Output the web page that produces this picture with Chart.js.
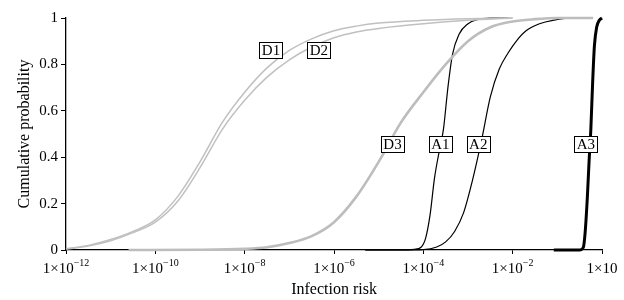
<!DOCTYPE html>
<html lang="en">
<head>
<meta charset="UTF-8" />
<title>Infection risk</title>
<script src="https://cdn.jsdelivr.net/npm/chart.js"></script>
<style>
  html, body { margin: 0; padding: 0; background: #fff; }
  #wrap { width: 624px; height: 300px; }
</style>
</head>
<body>
<div id="wrap"><canvas id="chart" width="624" height="300"></canvas></div>
<script>
  // x values are kept as powers of ten (exponents), y is cumulative probability
  const tickExps = [-12, -10, -8, -6, -4, -2, 0];
  const tickSup = ['\u221212', '\u221210', '\u22128', '\u22126', '\u22124', '\u22122', ''];

  const d1Exp = [-12, -11.5, -11, -10.5, -10, -9.5, -9, -8.5, -8, -7.5, -7, -6.5, -6, -5.5, -5, -4, -3, -2];
  const d1Val = [0.005, 0.02, 0.045, 0.08, 0.13, 0.23, 0.38, 0.55, 0.68, 0.785, 0.86, 0.91, 0.945, 0.965, 0.978, 0.99, 0.997, 1.0];

  const d2Exp = [-12, -11.5, -11, -10.5, -10, -9.5, -9, -8.5, -8, -7.5, -7, -6.5, -6, -5.5, -5, -4, -3, -2];
  const d2Val = [0.004, 0.017, 0.04, 0.075, 0.12, 0.21, 0.355, 0.52, 0.645, 0.745, 0.82, 0.875, 0.915, 0.94, 0.955, 0.975, 0.99, 1.0];

  const d3Exp = [-10.6, -9, -8, -7.5, -7, -6.5, -6, -5.5, -5, -4.5, -4, -3.5, -3, -2.5, -2, -1.5, -1, -0.2];
  const d3Val = [0, 0.001, 0.005, 0.012, 0.03, 0.06, 0.12, 0.23, 0.38, 0.55, 0.68, 0.80, 0.90, 0.96, 0.985, 0.995, 1.0, 1.0];

  const a1Exp = [-5.3, -4.5, -4.2, -4.05, -3.95, -3.85, -3.75, -3.65, -3.55, -3.45, -3.35, -3.2, -3.0, -2.8, -2.5, -2.1];
  const a1Val = [0, 0, 0.003, 0.012, 0.05, 0.15, 0.31, 0.42, 0.52, 0.70, 0.84, 0.93, 0.975, 0.993, 1.0, 1.0];

  const a2Exp = [-5.3, -4.5, -4.0, -3.7, -3.5, -3.3, -3.1, -2.9, -2.7, -2.5, -2.3, -2.1, -1.9, -1.7, -1.4, -1.1, -0.6, -0.2];
  const a2Val = [0, 0, 0.002, 0.013, 0.035, 0.08, 0.16, 0.30, 0.47, 0.66, 0.78, 0.85, 0.905, 0.945, 0.975, 0.99, 1.0, 1.0];

  const a3Exp = [-1.08, -0.5, -0.42, -0.38, -0.33, -0.29, -0.25, -0.21, -0.17, -0.12, -0.06, 0];
  const a3Val = [0, 0, 0.01, 0.07, 0.22, 0.38, 0.52, 0.72, 0.88, 0.96, 0.99, 1.0];

  // boxed curve names and where they sit (exponent, probability)
  const curveNames = ['D1', 'D2', 'D3', 'A1', 'A2', 'A3'];
  const labelExp = [-7.41, -6.34, -4.69, -3.62, -2.77, -0.36];
  const labelVal = [0.862, 0.862, 0.457, 0.457, 0.457, 0.457];

  const SERIF = '"Liberation Serif", "Times New Roman", serif';
  Chart.defaults.font.family = SERIF;
  Chart.defaults.color = '#000';

  function pts(exps, vals) {
    return exps.map((e, i) => ({ x: Math.pow(10, e), y: vals[i] }));
  }

  function line(data, color, width) {
    return {
      data: data,
      borderColor: color,
      borderWidth: width,
      pointRadius: 0,
      fill: false,
      cubicInterpolationMode: 'monotone',
      clip: 4
    };
  }

  // x tick labels with raised exponents + boxed curve names
  const extras = {
    id: 'extras',
    afterDraw(chart) {
      const c = chart.ctx;
      const xs = chart.scales.x;
      const ys = chart.scales.y;
      c.save();
      c.fillStyle = '#000';
      c.textBaseline = 'alphabetic';
      tickExps.forEach((e, i) => {
        const px = xs.getPixelForValue(Math.pow(10, e));
        c.font = '15px ' + SERIF;
        const base = '1\u00d710';
        const w1 = c.measureText(base).width;
        c.font = '10px ' + SERIF;
        const w2 = c.measureText(tickSup[i]).width;
        const x0 = px - (w1 + w2) / 2;
        c.font = '15px ' + SERIF;
        c.textAlign = 'left';
        c.fillText(base, x0, 273);
        c.font = '10px ' + SERIF;
        c.fillText(tickSup[i], x0 + w1, 266);
      });

      c.font = '15px ' + SERIF;
      c.textAlign = 'center';
      c.textBaseline = 'middle';
      curveNames.forEach((name, i) => {
        const cx = xs.getPixelForValue(Math.pow(10, labelExp[i]));
        const cy = ys.getPixelForValue(labelVal[i]);
        const w = c.measureText(name).width + 5;
        const h = 16;
        c.fillStyle = '#fff';
        c.fillRect(Math.round(cx - w / 2), Math.round(cy - h / 2), Math.round(w), h);
        c.strokeStyle = '#000';
        c.lineWidth = 1;
        c.strokeRect(Math.round(cx - w / 2) + 0.5, Math.round(cy - h / 2) + 0.5, Math.round(w), h);
        c.fillStyle = '#000';
        c.fillText(name, cx, cy + 1);
      });
      c.restore();
    }
  };

  const GRAY = '#c0c0c0';
  new Chart(document.getElementById('chart'), {
    type: 'line',
    data: {
      datasets: [
        line(pts(d1Exp, d1Val), GRAY, 1.5),
        line(pts(d2Exp, d2Val), GRAY, 1.5),
        line(pts(d3Exp, d3Val), '#bdbdbd', 2.6),
        line(pts(a1Exp, a1Val), '#000', 1.2),
        line(pts(a2Exp, a2Val), '#000', 1.2),
        line(pts(a3Exp, a3Val), '#000', 3)
      ]
    },
    options: {
      responsive: false,
      animation: false,
      devicePixelRatio: 1,
      layout: { padding: { top: 18, right: 22, bottom: 0, left: 0 } },
      plugins: { legend: { display: false }, tooltip: { enabled: false } },
      scales: {
        x: {
          type: 'logarithmic',
          min: 1e-12,
          max: 1,
          afterBuildTicks: (s) => { s.ticks = tickExps.map(e => ({ value: Math.pow(10, e) })); },
          afterFit: (s) => { s.height = 50; },
          ticks: { display: false },
          grid: { drawOnChartArea: false, drawTicks: true, tickLength: 4, color: '#000', lineWidth: 1 },
          border: { color: '#000', width: 1.3 },
          title: {
            display: true,
            text: 'Infection risk',
            font: { size: 16, family: SERIF },
            color: '#000',
            padding: { top: 0, bottom: 1 }
          }
        },
        y: {
          min: 0,
          max: 1,
          afterFit: (s) => { s.width = 66; },
          ticks: {
            stepSize: 0.2,
            padding: 3,
            font: { size: 15, family: SERIF },
            color: '#000',
            callback: (v) => String(Math.round(v * 10) / 10)
          },
          grid: { drawOnChartArea: false, drawTicks: true, tickLength: 5, color: '#000', lineWidth: 1 },
          border: { color: '#000', width: 1.3 },
          title: {
            display: true,
            text: 'Cumulative probability',
            font: { size: 16, family: SERIF },
            color: '#000',
            padding: { top: 15, bottom: 0 }
          }
        }
      }
    },
    plugins: [extras]
  });
</script>
</body>
</html>
